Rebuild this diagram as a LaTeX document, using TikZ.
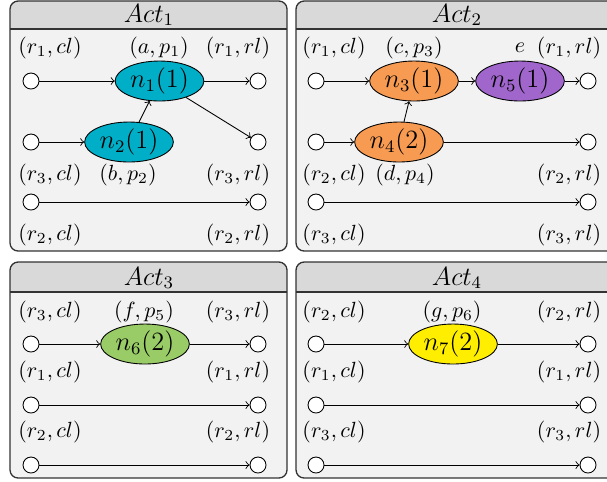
\documentclass[tikz,border=0pt]{standalone}
\usepackage{amssymb,amsmath}
\usepackage{xcolor}
\usetikzlibrary{positioning,shapes}

\definecolor{actcyan}{HTML}{00AEC8}
\definecolor{actorange}{HTML}{F79A52}
\definecolor{actpurple}{HTML}{A066CC}
\definecolor{actgreen}{HTML}{99CC66}
\definecolor{actyellow}{HTML}{FFEE00}

\begin{document}
\begin{tikzpicture}[x=0.016cm, y=-0.016cm,
  panel/.style={draw=black!80, line width=0.6pt, rounded corners=0.13cm},
  port/.style={circle, draw, fill=white, minimum size=0.256cm, inner sep=0pt},
  task/.style={ellipse, draw, minimum width=1.42cm, minimum height=0.64cm, inner sep=0pt, font=\large}]
  \clip (0,0) rectangle (607,481);

  % the four boxes
  \begin{scope}
    \clip[rounded corners=0.13cm] (10,1) rectangle (287,251);
    \fill[gray!10] (10,1) rectangle (287,251);
    \fill[gray!30] (10,1) rectangle (287,29);
  \end{scope}
  \draw[black!80, line width=0.6pt] (10,29) -- (287,29);
  \draw[panel] (10,1) rectangle (287,251);
  \begin{scope}
    \clip[rounded corners=0.13cm] (296,1) rectangle (617,251);
    \fill[gray!10] (296,1) rectangle (617,251);
    \fill[gray!30] (296,1) rectangle (617,29);
  \end{scope}
  \draw[black!80, line width=0.6pt] (296,29) -- (617,29);
  \draw[panel] (296,1) rectangle (617,251);
  \begin{scope}
    \clip[rounded corners=0.13cm] (10,262) rectangle (287,478);
    \fill[gray!10] (10,262) rectangle (287,478);
    \fill[gray!30] (10,262) rectangle (287,292);
  \end{scope}
  \draw[black!80, line width=0.6pt] (10,292) -- (287,292);
  \draw[panel] (10,262) rectangle (287,478);
  \begin{scope}
    \clip[rounded corners=0.13cm] (296,262) rectangle (617,478);
    \fill[gray!10] (296,262) rectangle (617,478);
    \fill[gray!30] (296,262) rectangle (617,292);
  \end{scope}
  \draw[black!80, line width=0.6pt] (296,292) -- (617,292);
  \draw[panel] (296,262) rectangle (617,478);

  % Act 1
  \node (t1) at (149,15) {\large $Act_1$};
  \node (l11) at (50,48) {$(r_1, cl)$};
  \node (lab1) at (159,48) {$(a, p_1)$};
  \node (r11) at (238,48) {$(r_1, rl)$};
  \node (l13) at (50,175) {$(r_3, cl)$};
  \node (lab2) at (128,175) {$(b, p_2)$};
  \node (r13) at (238,175) {$(r_3, rl)$};
  \node (l12) at (50,235) {$(r_2, cl)$};
  \node (r12) at (238,235) {$(r_2, rl)$};
  \node[port] (in11) at (31,81) {};
  \node[port] (out11) at (258,81) {};
  \node[port] (in13) at (31,142) {};
  \node[port] (out13) at (258,142) {};
  \node[port] (in12) at (31,202) {};
  \node[port] (out12) at (258,202) {};
  \node[task, fill=actcyan] (n1) at (159.5,81) {$n_1(1)$};
  \node[task, fill=actcyan] (n2) at (129,142) {$n_2(1)$};
  \path[->]
    (in11) edge (n1)
    (n1) edge (out11)
    (in13) edge (n2)
    (n2) edge (n1)
    (n1) edge (out13)
    (in12) edge (out12);

  % Act 2
  \node (t2) at (457,15) {\large $Act_2$};
  \node (l21) at (334,48) {$(r_1, cl)$};
  \node (lab3) at (414,48) {$(c, p_3)$};
  \node (lab5) at (520,48) {$e$};
  \node (r21) at (569,48) {$(r_1, rl)$};
  \node (l22) at (334,175) {$(r_2, cl)$};
  \node (lab4) at (405,175) {$(d, p_4)$};
  \node (r22) at (569,175) {$(r_2, rl)$};
  \node (l23) at (334,235) {$(r_3, cl)$};
  \node (r23) at (569,235) {$(r_3, rl)$};
  \node[port] (in21) at (316,81) {};
  \node[port] (out21) at (588,81) {};
  \node[port] (in22) at (316,142) {};
  \node[port] (out22) at (588,142) {};
  \node[port] (in23) at (316,202) {};
  \node[port] (out23) at (588,202) {};
  \node[task, fill=actorange] (n3) at (414,81) {$n_3(1)$};
  \node[task, fill=actpurple] (n5) at (520,81) {$n_5(1)$};
  \node[task, fill=actorange] (n4) at (399,142) {$n_4(2)$};
  \path[->]
    (in21) edge (n3)
    (n3) edge (n5)
    (n5) edge (out21)
    (in22) edge (n4)
    (n4) edge (n3)
    (n4) edge (out22)
    (in23) edge (out23);

  % Act 3
  \node (t3) at (149,278) {\large $Act_3$};
  \node (l33) at (50,312) {$(r_3, cl)$};
  \node (lab6) at (144,312) {$(f, p_5)$};
  \node (r33) at (238,312) {$(r_3, rl)$};
  \node (l31) at (50,372) {$(r_1, cl)$};
  \node (r31) at (238,372) {$(r_1, rl)$};
  \node (l32) at (50,432) {$(r_2, cl)$};
  \node (r32) at (238,432) {$(r_2, rl)$};
  \node[port] (in33) at (31,344) {};
  \node[port] (out33) at (258,344) {};
  \node[port] (in31) at (31,405) {};
  \node[port] (out31) at (258,405) {};
  \node[port] (in32) at (31,465) {};
  \node[port] (out32) at (258,465) {};
  \node[task, fill=actgreen] (n6) at (145,344) {$n_6(2)$};
  \path[->]
    (in33) edge (n6)
    (n6) edge (out33)
    (in31) edge (out31)
    (in32) edge (out32);

  % Act 4
  \node (t4) at (457,278) {\large $Act_4$};
  \node (l42) at (334,312) {$(r_2, cl)$};
  \node (lab7) at (452,312) {$(g, p_6)$};
  \node (r42) at (569,312) {$(r_2, rl)$};
  \node (l41) at (334,372) {$(r_1, cl)$};
  \node (r41) at (569,372) {$(r_1, rl)$};
  \node (l43) at (334,432) {$(r_3, cl)$};
  \node (r43) at (569,432) {$(r_3, rl)$};
  \node[port] (in42) at (316,344) {};
  \node[port] (out42) at (588,344) {};
  \node[port] (in41) at (316,405) {};
  \node[port] (out41) at (588,405) {};
  \node[port] (in43) at (316,465) {};
  \node[port] (out43) at (588,465) {};
  \node[task, fill=actyellow] (n7) at (453,344) {$n_7(2)$};
  \path[->]
    (in42) edge (n7)
    (n7) edge (out42)
    (in41) edge (out41)
    (in43) edge (out43);
\end{tikzpicture}
\end{document}
